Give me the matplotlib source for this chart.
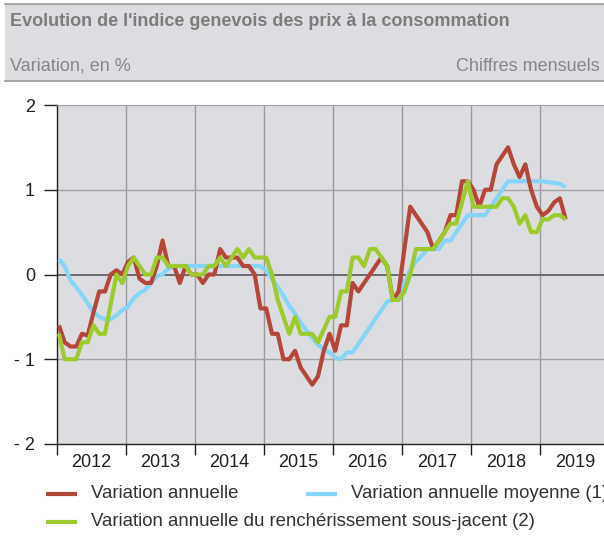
import numpy as np
import matplotlib.pyplot as plt
from matplotlib.lines import Line2D
from matplotlib.patches import Rectangle
from matplotlib.ticker import FixedLocator, NullFormatter

plt.rcParams['font.family'] = ['Liberation Sans', 'DejaVu Sans']

# Monthly values, Jan 2012 - May 2019 (in %)
annual = [
    -0.6, -0.8, -0.85, -0.85, -0.7, -0.72, -0.45, -0.2, -0.2, 0.0, 0.05, 0.0,   # 2012
    0.15, 0.2, -0.05, -0.1, -0.1, 0.1, 0.4, 0.1, 0.1, -0.1, 0.1, 0.0,            # 2013
    0.0, -0.1, 0.0, 0.0, 0.3, 0.2, 0.2, 0.2, 0.1, 0.1, 0.0, -0.4,               # 2014
    -0.4, -0.7, -0.7, -1.0, -1.0, -0.9, -1.1, -1.2, -1.3, -1.2, -0.9, -0.7,     # 2015
    -0.9, -0.6, -0.6, -0.1, -0.2, -0.1, 0.0, 0.1, 0.2, 0.1, -0.3, -0.2,         # 2016
    0.3, 0.8, 0.7, 0.6, 0.5, 0.3, 0.4, 0.5, 0.7, 0.7, 1.1, 1.1,                 # 2017
    1.0, 0.8, 1.0, 1.0, 1.3, 1.4, 1.5, 1.3, 1.15, 1.3, 1.0, 0.8,                # 2018
    0.7, 0.75, 0.85, 0.9, 0.65,                                                 # 2019
]
annual_mean = [
    0.18, 0.1, -0.07, -0.15, -0.24, -0.34, -0.44, -0.5, -0.53, -0.53, -0.48, -0.42,
    -0.38, -0.28, -0.22, -0.18, -0.1, -0.02, 0.0, 0.07, 0.1, 0.1, 0.1, 0.1,
    0.1, 0.1, 0.1, 0.1, 0.1, 0.1, 0.1, 0.1, 0.1, 0.1, 0.1, 0.1,
    0.05, -0.05, -0.15, -0.25, -0.37, -0.46, -0.57, -0.66, -0.75, -0.83, -0.88, -0.92,
    -0.98, -1.0, -0.92, -0.92, -0.82, -0.72, -0.62, -0.52, -0.42, -0.32, -0.3, -0.22,
    -0.1, 0.05, 0.15, 0.22, 0.3, 0.3, 0.3, 0.4, 0.4, 0.5, 0.6, 0.7,
    0.7, 0.7, 0.7, 0.8, 0.9, 1.0, 1.1, 1.1, 1.1, 1.1, 1.1, 1.1,
    1.1, 1.09, 1.08, 1.07, 1.03,
]
core = [
    -0.7, -1.0, -1.0, -1.0, -0.8, -0.8, -0.6, -0.7, -0.7, -0.35, 0.0, -0.1,
    0.1, 0.2, 0.1, 0.0, 0.0, 0.2, 0.2, 0.1, 0.1, 0.1, 0.1, 0.0,
    0.0, 0.0, 0.1, 0.1, 0.2, 0.1, 0.2, 0.3, 0.2, 0.3, 0.2, 0.2,
    0.2, 0.0, -0.3, -0.5, -0.7, -0.5, -0.7, -0.7, -0.7, -0.8, -0.65, -0.5,
    -0.5, -0.2, -0.2, 0.2, 0.2, 0.1, 0.3, 0.3, 0.2, 0.1, -0.3, -0.3,
    -0.2, 0.0, 0.3, 0.3, 0.3, 0.3, 0.4, 0.5, 0.6, 0.6, 0.85, 1.1,
    0.8, 0.8, 0.8, 0.8, 0.8, 0.9, 0.9, 0.8, 0.6, 0.7, 0.5, 0.5,
    0.65, 0.65, 0.7, 0.7, 0.65,
]
years = [2012, 2013, 2014, 2015, 2016, 2017, 2018, 2019]
y_ticks = [-2, -1, 0, 1, 2]
y_labels = ['- 2', '- 1', '0', '1', '2']

labels = ['Variation annuelle',
          'Variation annuelle moyenne (1)',
          'Variation annuelle du renchérissement sous-jacent (2)']
colors = {'red': '#b5473a', 'blue': '#84d5f7', 'green': '#9dcb2d'}
bg = '#dcdde0'
W, H = 604, 538

# month index -> decimal year
x = years[0] + (np.arange(len(annual)) + 0.4) / 12

fig = plt.figure(figsize=(W / 100, H / 100), dpi=100)

# header band
fig.patches.append(Rectangle((5 / W, 1 - 81 / H), 1, 77 / H, transform=fig.transFigure,
                             facecolor=bg, edgecolor='none', zorder=0))
for yy in (4, 81):
    fig.add_artist(Line2D([5 / W, 1], [1 - yy / H] * 2, color='#9c9c9c', lw=1.2))
fig.text(10 / W, 1 - 21 / H, "Evolution de l'indice genevois des prix à la consommation",
         fontsize=13, fontweight='bold', color='#7c7c7c', va='center')
fig.text(10 / W, 1 - 66 / H, 'Variation, en %', fontsize=13, color='#878787', va='center')
fig.text(600 / W, 1 - 66 / H, 'Chiffres mensuels', fontsize=13, color='#878787',
         va='center', ha='right')

# plot area
ax = fig.add_axes([56.6 / W, 94 / H, 552.8 / W, 339 / H])
ax.set_facecolor(bg)
ax.set_xlim(years[0], years[-1] + 1)
ax.set_ylim(-2, 2)

for yr in years[1:]:
    ax.axvline(yr, color='#9a9a9a', lw=1, zorder=1)
for yv in (-1, 1):
    ax.axhline(yv, color='#a3a3a3', lw=1, zorder=1)
ax.axhline(0, color='#6b6b6b', lw=1.4, zorder=1)

ax.plot(x, annual_mean, color=colors['blue'], lw=3, zorder=3, solid_capstyle='butt')
ax.plot(x, annual, color=colors['red'], lw=3, zorder=4, solid_capstyle='butt')
ax.plot(x, core, color=colors['green'], lw=3, zorder=5, solid_capstyle='butt')

for side in ('left', 'bottom'):
    ax.spines[side].set_color('#222222')
    ax.spines[side].set_linewidth(1)
ax.spines['top'].set_color('#a3a3a3')
ax.spines['right'].set_visible(False)

ax.set_yticks(y_ticks)
ax.set_yticklabels(y_labels)
ax.tick_params(axis='y', direction='out', length=9.5, width=1, pad=6,
               labelsize=13, color='#222222', labelcolor='#222222')

ax.xaxis.set_major_locator(FixedLocator(years + [years[-1] + 1]))
ax.xaxis.set_major_formatter(NullFormatter())
ax.xaxis.set_minor_locator(FixedLocator([yr + 0.5 for yr in years]))
ax.set_xticklabels([str(yr) for yr in years], minor=True)
ax.tick_params(axis='x', which='major', direction='out', length=8, width=1, color='#222222')
ax.tick_params(axis='x', which='minor', length=0, pad=7, labelsize=13, labelcolor='#222222')

# legend drawn by hand (two rows)
legend_items = [(46, 494, colors['red'], labels[0]),
                (306, 494, colors['blue'], labels[1]),
                (46, 522, colors['green'], labels[2])]
for x0, y0, c, lab in legend_items:
    fig.add_artist(Line2D([x0 / W, (x0 + 31) / W], [1 - y0 / H] * 2, color=c, lw=3,
                          solid_capstyle='butt'))
    fig.text((x0 + 45) / W, 1 - y0 / H, lab, fontsize=13.4, color='#333333', va='center')

fig.savefig('out.png', dpi=100)
